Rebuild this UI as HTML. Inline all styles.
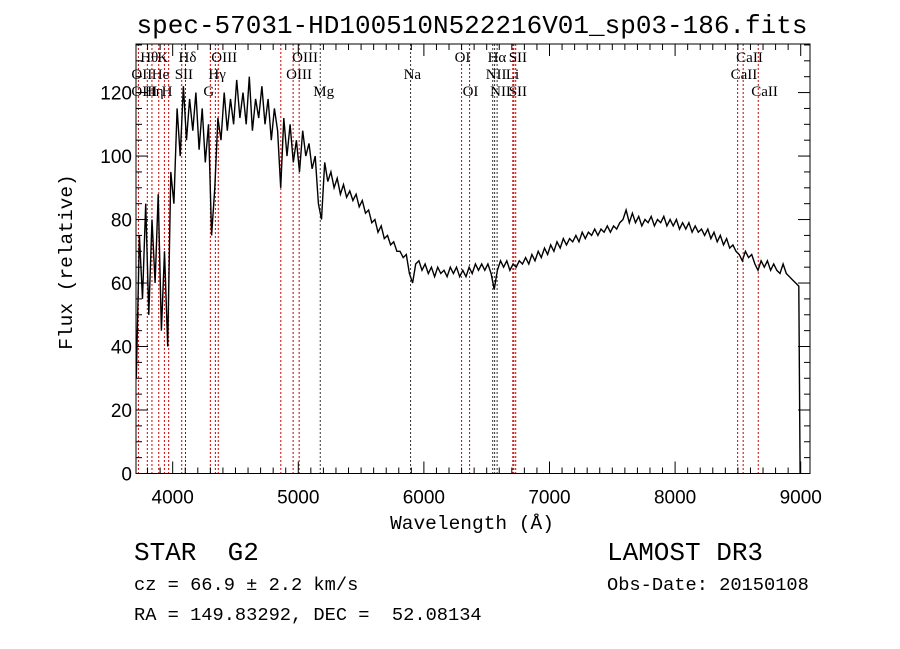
<!DOCTYPE html>
<html><head><meta charset="utf-8"><style>
body{margin:0;background:#fff;}
svg{display:block;}
.t{font-family:"Liberation Mono","DejaVu Sans Mono",monospace;fill:#000;}
.tick{font-family:"Liberation Sans",sans-serif;font-size:19px;fill:#000;}
.ann{font-family:"Liberation Serif",serif;font-size:15px;fill:#000;}
</style></head><body>
<svg id="chart" width="900" height="649" viewBox="0 0 900 649" xmlns="http://www.w3.org/2000/svg">
<rect width="900" height="649" fill="#fff"/>
<text class="t" x="472" y="33" text-anchor="middle" font-size="26">spec-57031-HD100510N522216V01_sp03-186.fits</text>
<g id="lines"></g>
<g id="ticks"></g>
<path id="spec" fill="none" stroke="#000" stroke-width="1.4"/>
<rect x="136" y="44" width="674" height="429.5" fill="none" stroke="#000" stroke-width="1"/>
<g id="anns"></g>
<text class="t" x="472" y="529" text-anchor="middle" font-size="19.5">Wavelength (Å)</text>
<text class="t" transform="translate(72,262) rotate(-90)" text-anchor="middle" font-size="19.5">Flux (relative)</text>
<text class="t" x="134" y="560" font-size="26" style="white-space:pre">STAR  G2</text>
<text class="t" x="607" y="560" font-size="26">LAMOST DR3</text>
<text class="t" x="134" y="590" font-size="18.7">cz = 66.9 ± 2.2 km/s</text>
<text class="t" x="607" y="590" font-size="18.7">Obs-Date: 20150108</text>
<text class="t" x="134" y="620" font-size="18.7" style="white-space:pre">RA = 149.83292, DEC =  52.08134</text>
</svg>
<script>
const waveStart = 3710;
const waveStep = 25;
const flux = [30,75,55,85,50,80,60,88,45,70,40,95,85,115,100,122,105,118,108,120,102,115,98,110,75,90,112,105,120,108,118,110,124,112,120,110,125,108,118,112,122,110,118,105,115,108,90,112,100,110,98,105,95,108,100,104,96,100,85,80,98,92,95,90,93,88,91,87,89,86,88,84,86,82,83,79,80,76,78,74,75,72,73,70,70,68,69,63,60,66,67,64,66,63,65,62,65,63,64,62,65,63,65,62,64,62,65,63,66,64,66,64,66,63,58,64,67,65,67,64,66,65,67,66,68,66,69,67,70,68,71,69,72,70,73,71,74,72,74,73,75,73,76,74,76,75,77,75,77,76,78,76,78,77,79,80,83,79,82,79,81,78,80,79,81,78,80,79,81,78,80,78,80,77,79,77,79,76,78,76,77,75,77,74,76,73,75,72,74,71,72,70,69,67,70,68,69,66,64,67,65,67,64,66,64,63,66,63,62,61,60,59,0];
const lineWaves = [3727,3798,3835,3889,3934,3968,4072,4102,4300,4340,4363,4861,4959,5007,5175,5894,6300,6364,6548,6563,6583,6708,6716,6731,8498,8542,8662];
const lineColors = ["r","r","r","r","r","r","r","k","r","r","r","r","r","r","k","k","r","r","k","k","k","r","r","r","r","r","r"];
const xTickVals = [4000,5000,6000,7000,8000,9000];
const yTickVals = [0,20,40,60,80,100,120];
const annTexts = ["Hθ","K","Hδ","OIII","OIII","OII","He","SII","Hγ","OIII","OIII","Hη","H","G","Mg","Na","OI","OI","Hα","SII","NII","Li","NII","SII","CaII","CaII","CaII"];
const annWaves = [3798,3934,4102,4363,5007,3727,3889,4072,4340,4959,3727,3835,3968,4300,5175,5894,6300,6364,6563,6731,6548,6708,6583,6731,8542,8498,8662];
const annRows = [0,0,0,0,0,1,1,1,1,1,2,2,2,2,2,1,0,2,0,0,1,1,2,2,0,1,2];

const X0=136,X1=810,Y0=473.5,Y1=44;
const W0=3708,W1=9074,F0=0,F1=135.3;
const xs=w=>X0+(w-W0)/(W1-W0)*(X1-X0);
const ys=f=>Y0-(f-F0)/(F1-F0)*(Y0-Y1);
const NS="http://www.w3.org/2000/svg";
function mk(tag,attrs,parent){const e=document.createElementNS(NS,tag);for(const k in attrs)e.setAttribute(k,attrs[k]);parent.appendChild(e);return e;}

const lg=document.getElementById('lines');
lineWaves.forEach((w,i)=>{
  const l=mk('line',{x1:xs(w),x2:xs(w),y1:Y1,y2:Y0,stroke:lineColors[i]==='r'?'#c00':'#333','stroke-width':1,'stroke-dasharray':'2,2'},lg);
  
  
});

let d='';
flux.forEach((f,i)=>{const w=Math.min(waveStart+i*waveStep,8995);d+=(i?'L':'M')+xs(w).toFixed(1)+','+ys(f).toFixed(1);});
document.getElementById('spec').setAttribute('d',d);

const tg=document.getElementById('ticks');
for(let w=3800;w<=9000;w+=100){
  const major=w%1000===0;
  const len=major?12:6;
  mk('line',{x1:xs(w),x2:xs(w),y1:Y0,y2:Y0-len,stroke:'#000'},tg);
  mk('line',{x1:xs(w),x2:xs(w),y1:Y1,y2:Y1+len,stroke:'#000'},tg);
}
xTickVals.forEach(v=>{
  const t=mk('text',{x:xs(v),y:Y0+30,'text-anchor':'middle',class:'tick'},tg);
  t.textContent=v;
  
  
});
for(let f=0;f<=135;f+=5){
  const major=f%20===0;
  const len=major?12:6;
  mk('line',{x1:X0,x2:X0+len,y1:ys(f),y2:ys(f),stroke:'#000'},tg);
  mk('line',{x1:X1,x2:X1-len,y1:ys(f),y2:ys(f),stroke:'#000'},tg);
}
yTickVals.forEach(v=>{
  const t=mk('text',{x:X0-4,y:ys(v)+7,'text-anchor':'end',class:'tick'},tg);
  t.textContent=v;
  
  
});

const ag=document.getElementById('anns');
const rowY=[62,79,96];
annTexts.forEach((s,i)=>{
  const t=mk('text',{x:xs(annWaves[i])-7,y:rowY[annRows[i]],class:'ann'},ag);
  t.textContent=s;
  
  
});
</script>
</body></html>
